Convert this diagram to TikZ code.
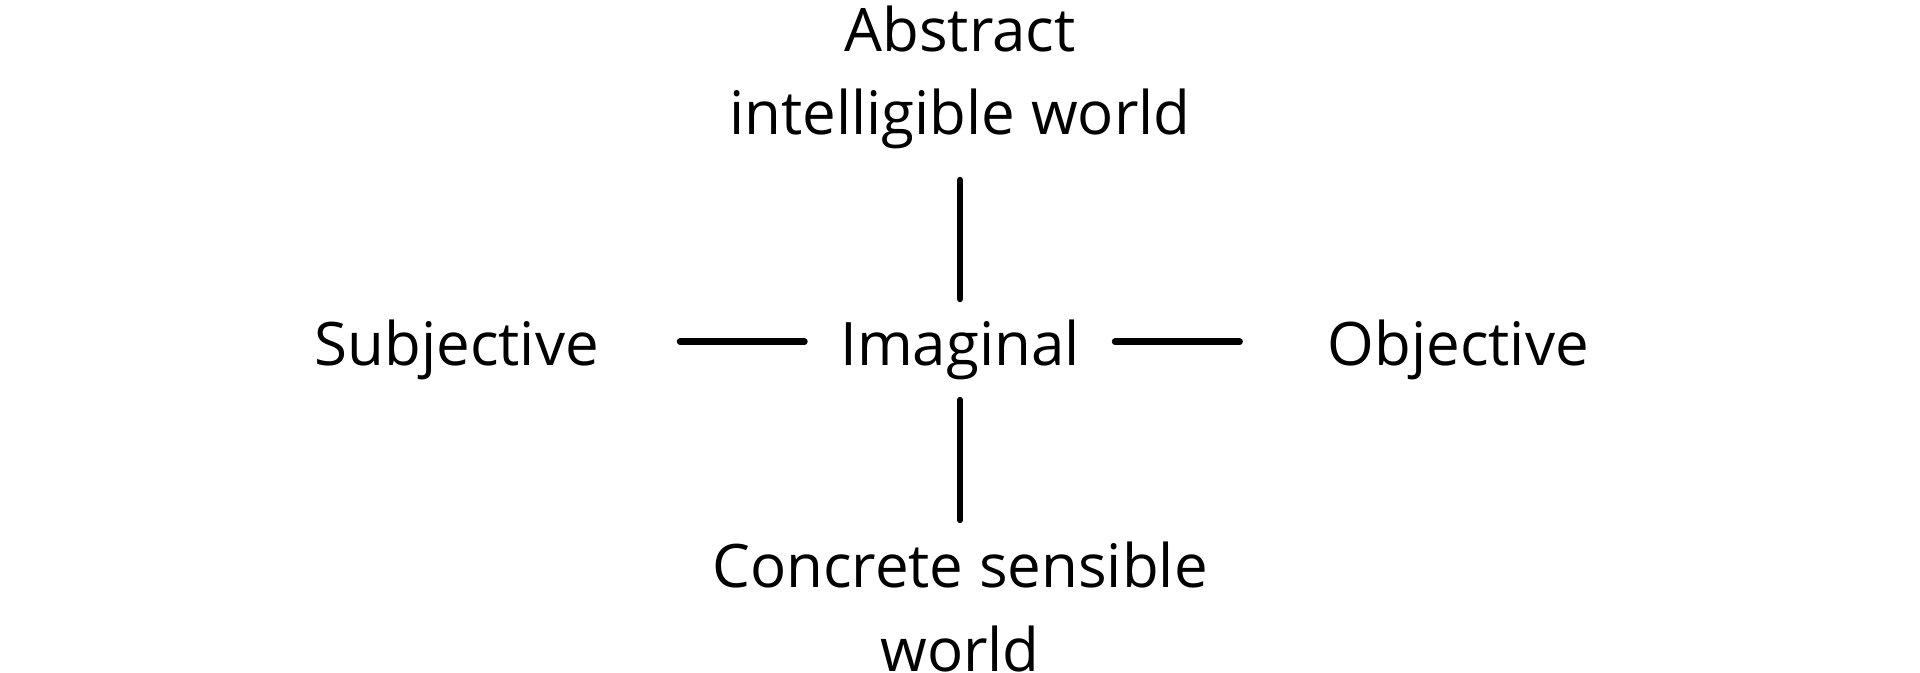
\documentclass[tikz,border=0pt]{standalone}
\usepackage{fontspec}
\setmainfont{Open Sans}
\begin{document}
\begin{tikzpicture}[x=0.5pt,y=-0.5pt,
  lbl/.style={font=\fontsize{30pt}{41.6pt}\selectfont, inner sep=0pt, align=center, anchor=base},
  conn/.style={line width=3.2pt, line cap=round}]
\useasboundingbox (0,0) rectangle (1920,673);
\node[lbl] (top) at (960,134.7) {Abstract\\intelligible world};
\node[lbl] (mid) at (960,365) {Imaginal};
\node[lbl] (sub) at (456.7,365) {Subjective};
\node[lbl] (obj) at (1458.3,365) {Objective};
\node[lbl] (bot) at (960,671) {Concrete sensible\\world};
\draw[conn, shorten <=33pt, shorten >=22.65pt] (mid.base) -- (top.base);
\draw[conn, shorten <=17.5pt, shorten >=75.5pt] (mid.base) -- (bot.base);
\draw[conn, shorten <=77.75pt, shorten >=111.65pt] ([yshift=11.65pt]mid.base) -- ([yshift=11.65pt]sub.base);
\draw[conn, shorten <=77.5pt, shorten >=109.3pt] ([yshift=11.65pt]mid.base) -- ([yshift=11.65pt]obj.base);
\end{tikzpicture}
\end{document}
